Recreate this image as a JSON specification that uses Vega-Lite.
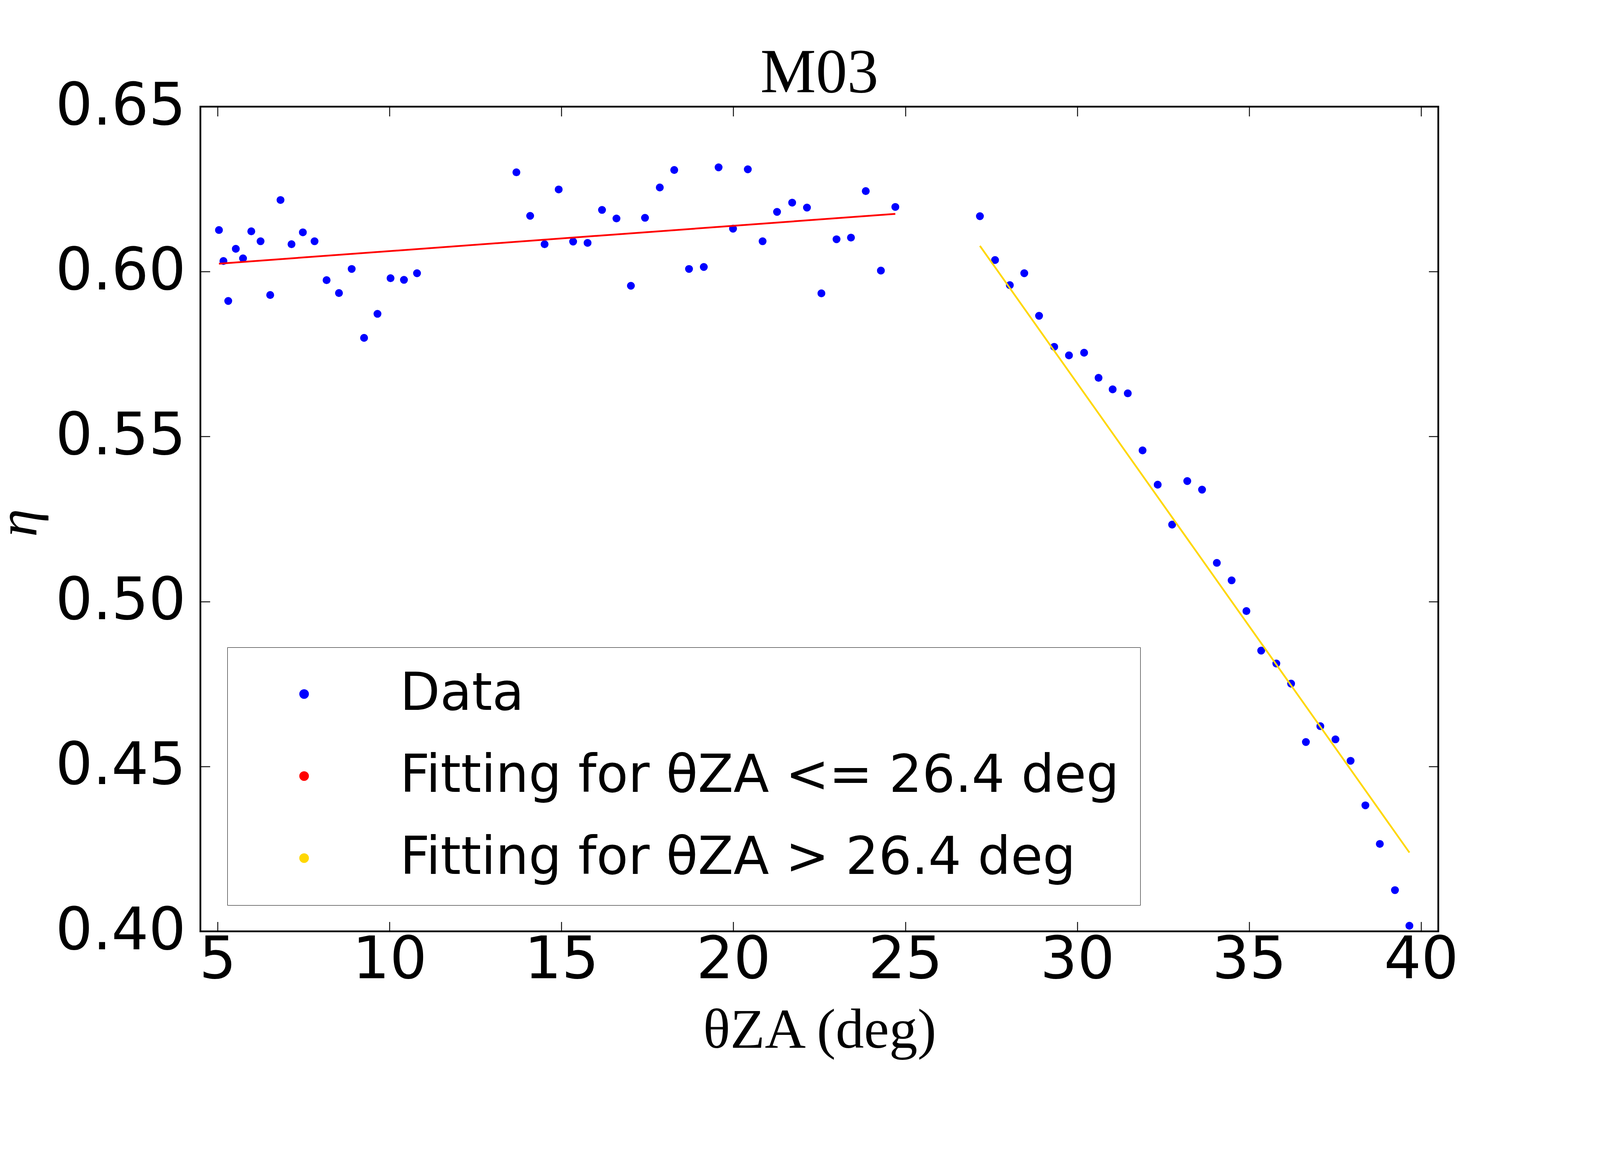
{
  "$schema": "https://vega.github.io/schema/vega-lite/v6.json",
  "width": 3169,
  "height": 2111,
  "autosize": {"type": "none"},
  "padding": {"left": 513, "top": 273, "right": 409, "bottom": 343},
  "background": "white",
  "title": {
    "text": "M03",
    "font": "Liberation Serif",
    "fontSize": 160,
    "fontWeight": "normal",
    "color": "black",
    "anchor": "middle",
    "frame": "group",
    "baseline": "alphabetic",
    "offset": 32,
    "dy": 230
  },
  "config": {
    "view": {"stroke": "black", "strokeWidth": 4.5},
    "axis": {
      "domain": false,
      "grid": false,
      "tickColor": "black",
      "tickWidth": 2.3,
      "tickSize": -24.5,
      "labelFont": "DejaVu Sans",
      "labelFontSize": 150,
      "labelColor": "black",
      "labelLimit": 1000,
      "labelFlush": false,
      "labelOverlap": false,
      "labelBound": false,
      "titleFont": "Liberation Serif",
      "titleFontWeight": "normal",
      "titleColor": "black"
    }
  },
  "datasets": {
    "points": [
      {"theta": 5.04, "eta": 0.6126, "series": "Data"},
      {"theta": 5.17, "eta": 0.6032, "series": "Data"},
      {"theta": 5.31, "eta": 0.5911, "series": "Data"},
      {"theta": 5.53, "eta": 0.6069, "series": "Data"},
      {"theta": 5.74, "eta": 0.6040, "series": "Data"},
      {"theta": 5.98, "eta": 0.6122, "series": "Data"},
      {"theta": 6.25, "eta": 0.6092, "series": "Data"},
      {"theta": 6.53, "eta": 0.5929, "series": "Data"},
      {"theta": 6.83, "eta": 0.6217, "series": "Data"},
      {"theta": 7.15, "eta": 0.6083, "series": "Data"},
      {"theta": 7.48, "eta": 0.6119, "series": "Data"},
      {"theta": 7.82, "eta": 0.6092, "series": "Data"},
      {"theta": 8.17, "eta": 0.5974, "series": "Data"},
      {"theta": 8.53, "eta": 0.5935, "series": "Data"},
      {"theta": 8.90, "eta": 0.6008, "series": "Data"},
      {"theta": 9.26, "eta": 0.5799, "series": "Data"},
      {"theta": 9.65, "eta": 0.5872, "series": "Data"},
      {"theta": 10.03, "eta": 0.5980, "series": "Data"},
      {"theta": 10.42, "eta": 0.5975, "series": "Data"},
      {"theta": 10.80, "eta": 0.5995, "series": "Data"},
      {"theta": 13.69, "eta": 0.6301, "series": "Data"},
      {"theta": 14.09, "eta": 0.6169, "series": "Data"},
      {"theta": 14.51, "eta": 0.6083, "series": "Data"},
      {"theta": 14.92, "eta": 0.6249, "series": "Data"},
      {"theta": 15.34, "eta": 0.6091, "series": "Data"},
      {"theta": 15.76, "eta": 0.6087, "series": "Data"},
      {"theta": 16.18, "eta": 0.6187, "series": "Data"},
      {"theta": 16.60, "eta": 0.6161, "series": "Data"},
      {"theta": 17.02, "eta": 0.5957, "series": "Data"},
      {"theta": 17.43, "eta": 0.6163, "series": "Data"},
      {"theta": 17.86, "eta": 0.6255, "series": "Data"},
      {"theta": 18.28, "eta": 0.6308, "series": "Data"},
      {"theta": 18.71, "eta": 0.6008, "series": "Data"},
      {"theta": 19.14, "eta": 0.6014, "series": "Data"},
      {"theta": 19.57, "eta": 0.6316, "series": "Data"},
      {"theta": 19.99, "eta": 0.6130, "series": "Data"},
      {"theta": 20.42, "eta": 0.6310, "series": "Data"},
      {"theta": 20.85, "eta": 0.6092, "series": "Data"},
      {"theta": 21.27, "eta": 0.6181, "series": "Data"},
      {"theta": 21.71, "eta": 0.6209, "series": "Data"},
      {"theta": 22.14, "eta": 0.6194, "series": "Data"},
      {"theta": 22.56, "eta": 0.5934, "series": "Data"},
      {"theta": 23.00, "eta": 0.6098, "series": "Data"},
      {"theta": 23.42, "eta": 0.6103, "series": "Data"},
      {"theta": 23.85, "eta": 0.6244, "series": "Data"},
      {"theta": 24.29, "eta": 0.6003, "series": "Data"},
      {"theta": 24.71, "eta": 0.6196, "series": "Data"},
      {"theta": 27.17, "eta": 0.6168, "series": "Data"},
      {"theta": 27.61, "eta": 0.6035, "series": "Data"},
      {"theta": 28.04, "eta": 0.5959, "series": "Data"},
      {"theta": 28.46, "eta": 0.5995, "series": "Data"},
      {"theta": 28.89, "eta": 0.5866, "series": "Data"},
      {"theta": 29.33, "eta": 0.5772, "series": "Data"},
      {"theta": 29.76, "eta": 0.5746, "series": "Data"},
      {"theta": 30.20, "eta": 0.5754, "series": "Data"},
      {"theta": 30.62, "eta": 0.5678, "series": "Data"},
      {"theta": 31.03, "eta": 0.5643, "series": "Data"},
      {"theta": 31.47, "eta": 0.5631, "series": "Data"},
      {"theta": 31.90, "eta": 0.5458, "series": "Data"},
      {"theta": 32.34, "eta": 0.5354, "series": "Data"},
      {"theta": 32.76, "eta": 0.5233, "series": "Data"},
      {"theta": 33.20, "eta": 0.5365, "series": "Data"},
      {"theta": 33.63, "eta": 0.5339, "series": "Data"},
      {"theta": 34.06, "eta": 0.5117, "series": "Data"},
      {"theta": 34.49, "eta": 0.5064, "series": "Data"},
      {"theta": 34.92, "eta": 0.4971, "series": "Data"},
      {"theta": 35.35, "eta": 0.4851, "series": "Data"},
      {"theta": 35.79, "eta": 0.4812, "series": "Data"},
      {"theta": 36.22, "eta": 0.4751, "series": "Data"},
      {"theta": 36.65, "eta": 0.4574, "series": "Data"},
      {"theta": 37.07, "eta": 0.4622, "series": "Data"},
      {"theta": 37.51, "eta": 0.4582, "series": "Data"},
      {"theta": 37.95, "eta": 0.4517, "series": "Data"},
      {"theta": 38.38, "eta": 0.4382, "series": "Data"},
      {"theta": 38.80, "eta": 0.4265, "series": "Data"},
      {"theta": 39.24, "eta": 0.4125, "series": "Data"},
      {"theta": 39.66, "eta": 0.4017, "series": "Data"}
    ],
    "fits": [
      {"theta": 5.04, "eta": 0.6024, "series": "Fitting for θZA <= 26.4 deg"},
      {"theta": 24.71, "eta": 0.6175, "series": "Fitting for θZA <= 26.4 deg"},
      {"theta": 27.17, "eta": 0.6078, "series": "Fitting for θZA > 26.4 deg"},
      {"theta": 39.66, "eta": 0.4239, "series": "Fitting for θZA > 26.4 deg"}
    ]
  },
  "resolve": {"axis": {"x": "independent", "y": "independent"}},
  "layer": [
    {
      "data": {"name": "points"},
      "mark": {"type": "circle", "size": 405, "opacity": 1},
      "encoding": {
        "x": {
          "field": "theta",
          "type": "quantitative",
          "scale": {"domain": [4.5, 40.5], "nice": false, "zero": false},
          "axis": {
            "orient": "bottom",
            "values": [5, 10, 15, 20, 25, 30, 35, 40],
            "labelPadding": 24.5,
            "title": "θZA (deg)",
            "titleFontSize": 145,
            "titleBaseline": "alphabetic",
            "titleAlign": "center",
            "titleX": 1585,
            "titleY": 297
          }
        },
        "y": {
          "field": "eta",
          "type": "quantitative",
          "scale": {"domain": [0.4, 0.65], "nice": false, "zero": false},
          "axis": {
            "orient": "left",
            "values": [0.4, 0.45, 0.5, 0.55, 0.6, 0.65],
            "format": ".2f",
            "labelPadding": 62,
            "title": "η",
            "titleFontSize": 145,
            "titleFontStyle": "italic",
            "titleAngle": 270,
            "titleAlign": "center",
            "titleBaseline": "middle",
            "titleX": -465,
            "titleY": 1065
          }
        },
        "color": {
          "field": "series",
          "type": "nominal",
          "scale": {
            "domain": ["Data", "Fitting for θZA <= 26.4 deg", "Fitting for θZA > 26.4 deg"],
            "range": ["#0000ff", "#ff0000", "#ffd700"]
          },
          "legend": {
            "orient": "none",
            "direction": "vertical",
            "legendX": 69,
            "legendY": 1384,
            "title": null,
            "fillColor": "white",
            "strokeColor": "black",
            "padding": 53,
            "rowPadding": 76,
            "symbolSize": 405,
            "symbolOffset": 77,
            "labelOffset": 179,
            "labelFont": "DejaVu Sans",
            "labelFontSize": 133,
            "labelColor": "black",
            "labelLimit": 4000,
            "symbolStrokeWidth": 4.5
          }
        }
      }
    },
    {
      "data": {"name": "fits"},
      "mark": {"type": "line", "strokeWidth": 4.5},
      "encoding": {
        "x": {
          "field": "theta",
          "type": "quantitative",
          "axis": {"orient": "top", "values": [5, 10, 15, 20, 25, 30, 35, 40], "labels": false, "title": null}
        },
        "y": {
          "field": "eta",
          "type": "quantitative",
          "axis": {"orient": "right", "values": [0.4, 0.45, 0.5, 0.55, 0.6, 0.65], "labels": false, "title": null}
        },
        "color": {"field": "series", "type": "nominal", "legend": null}
      }
    }
  ]
}
